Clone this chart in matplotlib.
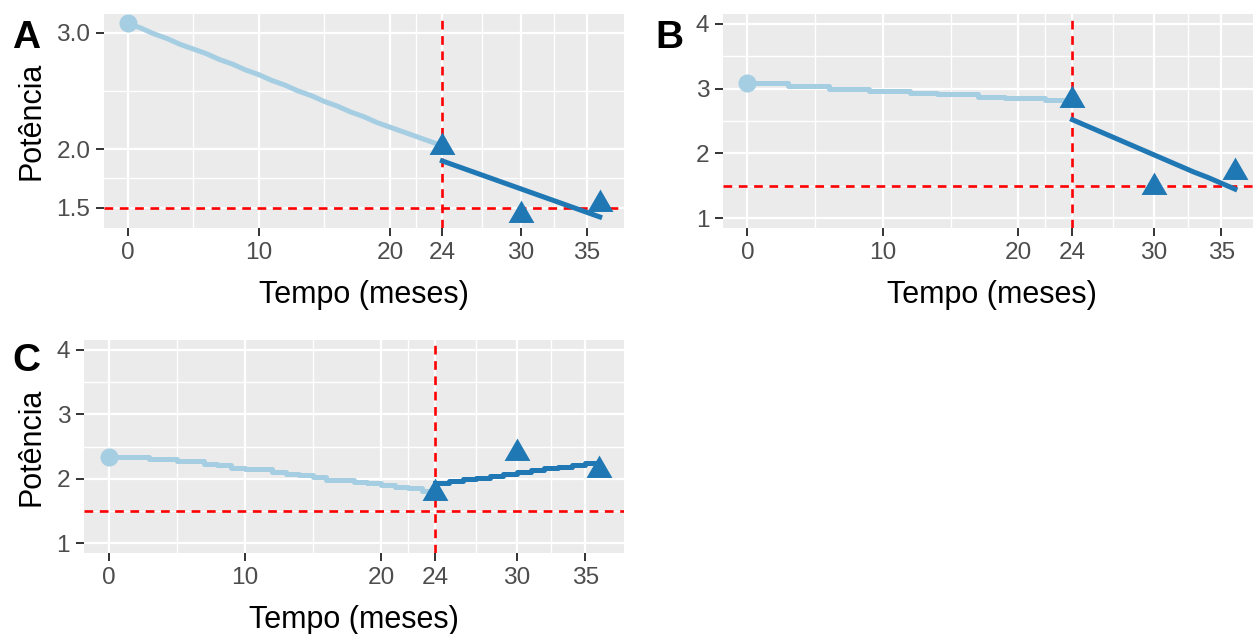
import numpy as np
import matplotlib.pyplot as plt

plt.rcParams['font.family'] = ['Liberation Sans', 'DejaVu Sans']

# meses
months_pre = list(range(0, 25))
months_post = list(range(24, 37))
obs_months = [24, 30, 36]

# painel A
pre_a = [3.08, 3.04, 2.99, 2.95, 2.90, 2.86, 2.82, 2.77, 2.73, 2.68, 2.64, 2.59, 2.55,
         2.50, 2.46, 2.41, 2.37, 2.32, 2.28, 2.23, 2.19, 2.15, 2.11, 2.07, 2.03]
post_a = [1.90, 1.86, 1.82, 1.78, 1.74, 1.70, 1.66, 1.62, 1.58, 1.54, 1.50, 1.46, 1.42]
obs_a = [2.02, 1.44, 1.53]

# painel B
pre_b = [3.08, 3.08, 3.08, 3.04, 3.04, 3.04, 3.00, 3.00, 3.00, 2.97, 2.97, 2.97, 2.93,
         2.93, 2.91, 2.91, 2.91, 2.87, 2.87, 2.85, 2.85, 2.85, 2.82, 2.82, 2.82]
post_b = [2.52, 2.43, 2.34, 2.25, 2.16, 2.07, 1.98, 1.89, 1.80, 1.71, 1.63, 1.54, 1.45]
obs_b = [2.83, 1.48, 1.71]

# painel C
pre_c = [2.34, 2.34, 2.34, 2.30, 2.30, 2.27, 2.27, 2.23, 2.21, 2.17, 2.15, 2.15, 2.11,
         2.08, 2.06, 2.03, 1.98, 1.98, 1.95, 1.93, 1.90, 1.88, 1.85, 1.81, 1.80]
post_c = [1.94, 1.96, 1.99, 2.01, 2.05, 2.08, 2.10, 2.13, 2.16, 2.18, 2.21, 2.24, 2.25]
obs_c = [1.78, 2.40, 2.14]

x_breaks = [0, 10, 20, 24, 30, 35]
x_minor = [5, 15, 22, 27, 32.5]

LIGHT = '#a6cee3'
DARK = '#1f78b4'
TRI = [(0, 1), (-0.866, -0.5), (0.866, -0.5), (0, 1)]

W, H = 1253, 634
fig = plt.figure(figsize=(W / 100, H / 100), dpi=100)


def add_ax(left, right, top, bottom):
    return fig.add_axes([left / W, 1 - bottom / H, (right - left) / W, (bottom - top) / H])


def draw_panel(ax, pre, post, obs, ylim, yticks, ylabels, yminor, pre_ds, post_ds, ylab):
    ax.set_facecolor('#ebebeb')
    for s in ax.spines.values():
        s.set_visible(False)
    for v in x_minor:
        ax.axvline(v, color='white', lw=1.0, zorder=0.5)
    for v in x_breaks:
        ax.axvline(v, color='white', lw=1.6, zorder=0.6)
    for v in yminor:
        ax.axhline(v, color='white', lw=1.0, zorder=0.5)
    for v in yticks:
        ax.axhline(v, color='white', lw=1.6, zorder=0.6)

    ax.axhline(1.5, color='red', lw=1.9, ls=(0, (3.3, 2.5)), zorder=2)
    ax.axvline(24, color='red', lw=1.9, ls=(0, (3.3, 2.5)), zorder=2)

    ax.plot(months_pre, pre, color=LIGHT, lw=3.6, drawstyle=pre_ds, zorder=3)
    ax.plot(months_post, post, color=DARK, lw=3.6, drawstyle=post_ds, zorder=3)
    ax.plot([0], [pre[0]], 'o', color=LIGHT, ms=13, mew=0, zorder=4)
    ax.plot(obs_months, obs, ls='none', marker=TRI, color=DARK, ms=21.5, mew=0, zorder=4)

    ax.set_xlim(-1.8, 37.85)
    ax.set_ylim(*ylim)
    ax.set_xticks(x_breaks)
    ax.set_xticklabels([str(v) for v in x_breaks])
    ax.set_yticks(yticks)
    ax.set_yticklabels(ylabels)
    ax.tick_params(length=5.5, width=1.4, color='#333333', labelcolor='#4d4d4d',
                   labelsize=17.6, pad=4.4)
    ax.set_xlabel('Tempo (meses)', fontsize=22, color='black')
    ax.xaxis.set_label_coords(0.5, -0.245)
    if ylab:
        ax.set_ylabel('Potência', fontsize=22, color='black')


ax_a = add_ax(104, 624, 14, 228)
draw_panel(ax_a, pre_a, post_a, obs_a, (1.325, 3.16), [1.5, 2.0, 3.0], ['1.5', '2.0', '3.0'],
           [1.75, 2.5], 'default', 'default', True)
ax_a.yaxis.set_label_coords(-0.11, 0.5)

ax_b = add_ax(723, 1260, 14, 228)
draw_panel(ax_b, pre_b, post_b, obs_b, (0.85, 4.15), [1, 2, 3, 4], ['1', '2', '3', '4'],
           [1.5, 2.5, 3.5], 'steps-post', 'default', False)

ax_c = add_ax(84, 624, 340, 553)
draw_panel(ax_c, pre_c, post_c, obs_c, (0.85, 4.15), [1, 2, 3, 4], ['1', '2', '3', '4'],
           [1.5, 2.5, 3.5], 'steps-post', 'steps-post', True)
ax_c.yaxis.set_label_coords(-0.07, 0.5)

for lab, x, y in [('A', 12, 48), ('B', 655, 48), ('C', 12, 371)]:
    fig.text(x / W, 1 - y / H, lab, fontsize=28, fontweight='bold', ha='left', va='baseline')

fig.savefig('out.png', dpi=100)
